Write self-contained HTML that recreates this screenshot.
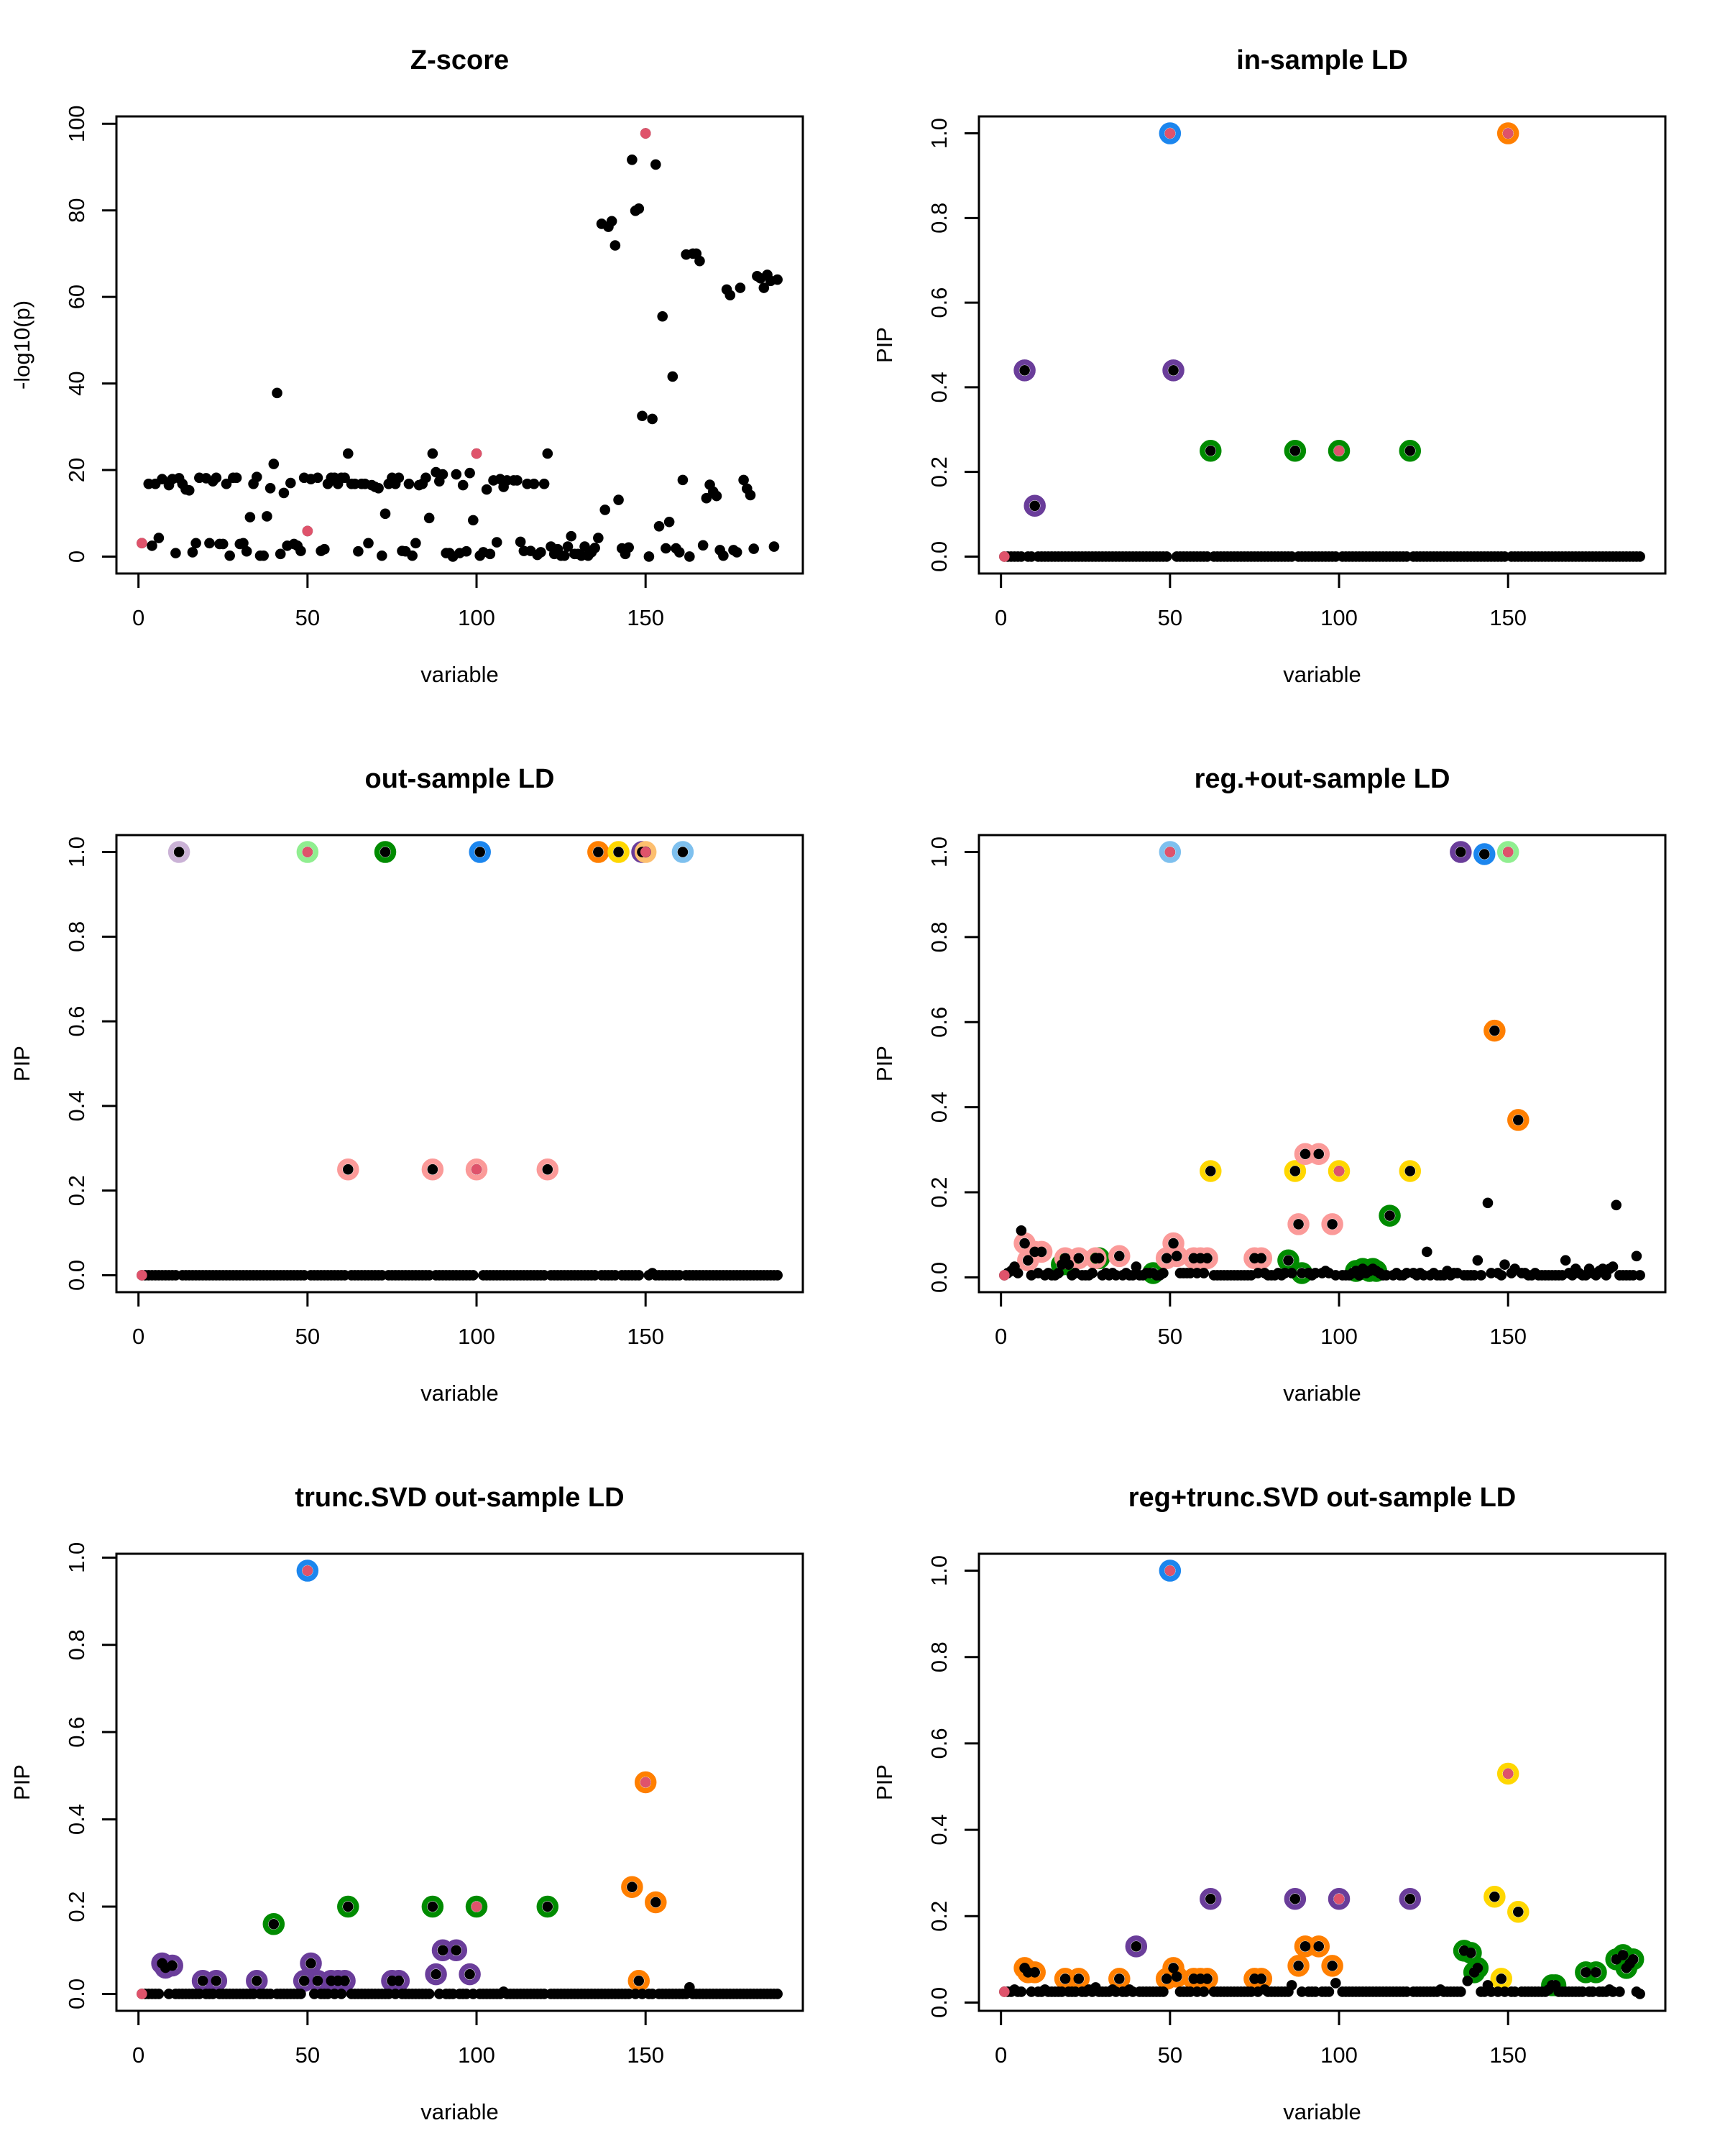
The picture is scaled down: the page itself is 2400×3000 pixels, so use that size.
<!DOCTYPE html>
<html><head><meta charset="utf-8"><style>
html,body{margin:0;padding:0;background:#fff;}
svg{display:block;font-family:"Liberation Sans",Arial,sans-serif;}
</style></head><body>
<svg id="fig" width="2400" height="3000" viewBox="0 0 2400 3000" xmlns="http://www.w3.org/2000/svg"></svg>
<script>
// ---------- data ----------
const nVar = 189;
const xTicks = [0, 50, 100, 150];
const zTicks = [0, 20, 40, 60, 80, 100];
const pipTicks = [0, 0.2, 0.4, 0.6, 0.8, 1.0];
const pipTickLabels = ["0.0","0.2","0.4","0.6","0.8","1.0"];
const trueVars = [1, 50, 100, 150];

// Panel 1: Z-score
const zVar = [1,3,4,5,6,7,9,10,11,12,13,14,15,16,17,18,20,21,22,23,24,25,26,27,28,29,30,31,32,33,34,35,36,37,38,39,40,41,42,43,44,45,46,47,48,49,50,51,53,54,55,56,57,58,59,60,61,62,63,64,65,66,67,68,69,70,71,72,73,74,75,76,77,78,79,80,81,82,83,84,85,86,87,88,89,90,91,92,93,94,95,96,97,98,99,100,101,102,103,104,105,106,107,108,109,111,112,113,114,115,116,117,118,119,120,121,122,123,124,125,126,127,128,129,130,131,132,133,134,135,136,137,138,139,140,141,142,143,144,145,146,147,148,149,150,151,152,153,154,155,156,157,158,159,160,161,162,163,164,165,166,167,168,169,170,171,172,173,174,175,176,177,178,179,180,181,182,183,184,185,186,187,188,189];
const zVal = [3.1,16.8,2.5,16.8,4.3,17.9,16.5,17.9,0.8,18.1,16.8,15.5,15.3,1.0,3.1,18.2,18.1,3.1,17.4,18.2,2.9,2.9,16.8,0.2,18.2,18.2,2.9,3.1,1.2,9.1,16.8,18.4,0.2,0.2,9.3,15.8,21.4,37.8,0.6,14.7,2.5,17.0,2.9,2.5,1.3,18.2,5.9,17.9,18.2,1.3,1.7,16.8,18.2,18.2,16.8,18.2,18.2,23.8,16.8,16.8,1.2,16.8,16.8,3.1,16.5,16.1,15.8,0.2,9.9,16.8,18.2,16.8,18.2,1.3,1.2,16.8,0.2,3.1,16.5,16.8,18.2,8.9,23.8,19.5,17.4,19.0,0.8,0.8,0.0,19.0,0.8,16.5,1.2,19.3,8.4,23.8,0.2,1.0,15.5,0.6,17.6,3.3,17.9,16.1,17.6,17.6,17.6,3.4,1.3,16.8,1.3,16.8,0.4,1.0,16.8,23.8,2.3,0.6,1.7,0.2,0.2,2.3,4.7,0.6,0.6,0.2,2.3,0.2,1.0,2.0,4.3,76.9,10.8,76.2,77.5,71.9,13.1,1.9,0.6,2.1,91.7,79.9,80.4,32.5,97.8,0.0,31.8,90.6,7.0,55.5,1.9,8.0,41.6,1.9,1.0,17.7,69.8,0.0,70.0,70.0,68.3,2.6,13.5,16.6,15.0,14.0,1.5,0.2,61.7,60.4,1.5,1.0,62.1,17.7,15.7,14.2,1.8,64.8,64.3,62.1,65.1,63.7,2.3,64.0];

// Panel 2: in-sample LD PIPs
const pip2 = [
0,0,0,0,0,0,.44,0,0,.12, 0,0,0,0,0,0,0,0,0,0, 0,0,0,0,0,0,0,0,0,0, 0,0,0,0,0,0,0,0,0,0,
0,0,0,0,0,0,0,0,0,1, .44,0,0,0,0,0,0,0,0,0, 0,.25,0,0,0,0,0,0,0,0, 0,0,0,0,0,0,0,0,0,0,
0,0,0,0,0,0,.25,0,0,0, 0,0,0,0,0,0,0,0,0,.25, 0,0,0,0,0,0,0,0,0,0, 0,0,0,0,0,0,0,0,0,0,
.25,0,0,0,0,0,0,0,0,0, 0,0,0,0,0,0,0,0,0,0, 0,0,0,0,0,0,0,0,0,1, 0,0,0,0,0,0,0,0,0,0,
0,0,0,0,0,0,0,0,0,0, 0,0,0,0,0,0,0,0,0,0, 0,0,0,0,0,0,0,0,0,0, 0,0,0,0,0,0,0,0,0];
const cs2Members = [[50],[150],[7,10,51],[62,87,100,121]];
const cs2Colors = ["#1C86EE","#FF7F00","#6A3D9A","#008B00"];

// Panel 3: out-sample LD
const pip3 = [
0,0,0,0,0,0,0,0,0,0, 0,1,0,0,0,0,0,0,0,0, 0,0,0,0,0,0,0,0,0,0, 0,0,0,0,0,0,0,0,0,0,
0,0,0,0,0,0,0,0,0,1, 0,0,0,0,0,0,0,0,0,0, 0,.25,0,0,0,0,0,0,0,0, 0,0,1,0,0,0,0,0,0,0,
0,0,0,0,0,0,.25,0,0,0, 0,0,0,0,0,0,0,0,0,.25, 1,0,0,0,0,0,0,0,0,0, 0,0,0,0,0,0,0,0,0,0,
.25,0,0,0,0,0,0,0,0,0, 0,0,0,0,0,1,0,0,0,0, 0,1,0,0,0,0,0,0,1,1, 0,.005,0,0,0,0,0,0,0,0,
1,0,0,0,0,0,0,0,0,0, 0,0,0,0,0,0,0,0,0,0, 0,0,0,0,0,0,0,0,0,0, 0,0,0,0,0,0,0,0,0];
const cs3Members = [[12],[50],[73],[101],[136],[142],[149],[150],[161],[62,87,100,121]];
const cs3Colors = ["#CAB2D6","#90EE90","#008B00","#1C86EE","#FF7F00","#FFD700","#6A3D9A","#FDBF6F","#7EC0EE","#FB9A99"];

// Panel 4: reg.+out-sample LD
const pip4 = [
.005,.01,.015,.025,.01,.11,.08,.04,.005,.06, .01,.06,.005,.01,.005,.005,.01,.03,.045,.03,
.005,.01,.045,.005,.005,.005,.01,.045,.045,.005, .01,.005,.01,.005,.05,.005,.01,.005,.005,.025,
.005,.005,.01,.01,.01,.005,.005,.01,.045,1, .08,.05,.01,.01,.01,.01,.045,.01,.045,.01,
.045,.25,.005,.005,.005,.005,.005,.005,.005,.005, .005,.005,.005,.005,.045,.01,.045,.01,.005,.005,
.005,.01,.005,.01,.04,.01,.25,.125,.01,.29, .01,.005,.01,.29,.01,.015,.01,.125,.005,.25,
.005,.005,.005,.01,.015,.005,.02,.01,.015,.02, .015,.01,.005,.005,.145,.005,.01,.005,.005,.01,
.25,.01,.005,.01,.005,.06,.005,.01,.005,.005, .005,.015,.005,.01,.01,1,.005,.005,.005,.005,
.04,.005,.995,.175,.01,.58,.01,.005,.03,1, .01,.02,.37,.01,.01,.005,.005,.01,.005,.005,
.005,.005,.005,.005,.005,.005,.04,.01,.005,.02, .01,.005,.005,.02,.01,.005,.015,.02,.005,.02,
.025,.17,.005,.005,.005,.005,.005,.05,.005];
const cs4Members = [[50],[136],[143],[150],[146,153],[62,87,100,121],
  [18,20,29,45,85,89,105,107,109,110,111,115],
  [7,8,10,12,19,23,28,35,49,51,52,57,59,61,75,77,88,90,94,98]];
const cs4Colors = ["#7EC0EE","#6A3D9A","#1C86EE","#90EE90","#FF7F00","#FFD700","#008B00","#FB9A99"];

// Panel 5: trunc.SVD out-sample LD
const pip5 = [
0,0,0,0,0,0,.07,.06,0,.065, 0,0,0,0,0,0,0,0,.03,0, 0,0,.03,0,0,0,0,0,0,0, 0,0,0,0,.03,0,0,0,0,.16,
0,0,0,0,0,0,0,0,.03,.97, .07,0,.03,0,0,0,.03,0,.03,0, .03,.2,0,0,0,0,0,0,0,0, 0,0,0,0,.03,0,.03,0,0,0,
0,0,0,0,0,0,.2,.045,0,.1, 0,0,0,.1,0,0,0,.045,0,.2, 0,0,0,0,0,0,0,.005,0,0, 0,0,0,0,0,0,0,0,0,0,
.2,0,0,0,0,0,0,0,0,0, 0,0,0,0,0,0,0,0,0,0, 0,0,0,0,0,.245,0,.03,0,.485, 0,0,.21,0,0,0,0,0,0,0,
0,0,.015,0,0,0,0,0,0,0, 0,0,0,0,0,0,0,0,0,0, 0,0,0,0,0,0,0,0,0,0, 0,0,0,0,0,0,0,0,0];
const cs5Members = [[50],[146,148,150,153],[40,62,87,100,121],
  [7,8,10,19,23,35,49,51,53,57,59,61,75,77,88,90,94,98]];
const cs5Colors = ["#1C86EE","#FF7F00","#008B00","#6A3D9A"];

// Panel 6: reg+trunc.SVD out-sample LD
const pip6 = [
.025,.025,.025,.03,.025,.025,.08,.07,.025,.07, .025,.025,.03,.025,.025,.025,.025,.025,.055,.025,
.025,.025,.055,.025,.025,.03,.025,.035,.025,.025, .025,.025,.03,.025,.055,.025,.025,.03,.025,.13,
.025,.025,.025,.025,.025,.025,.025,.025,.055,1, .08,.06,.025,.025,.025,.025,.055,.025,.055,.025,
.055,.24,.025,.025,.025,.025,.025,.025,.025,.025, .025,.025,.025,.025,.055,.025,.055,.03,.025,.025,
.025,.025,.025,.025,.025,.04,.24,.085,.025,.13, .025,.025,.025,.13,.025,.025,.025,.085,.045,.24,
.025,.025,.025,.025,.025,.025,.025,.025,.025,.025, .025,.025,.025,.025,.025,.025,.025,.025,.025,.025,
.24,.025,.025,.025,.025,.025,.025,.025,.025,.03, .025,.025,.025,.025,.025,.025,.12,.05,.115,.07,
.08,.025,.025,.04,.025,.245,.025,.055,.025,.53, .025,.025,.21,.025,.025,.025,.025,.025,.025,.025,
.025,.03,.04,.04,.025,.025,.025,.025,.025,.025, .025,.025,.07,.025,.025,.07,.025,.025,.025,.03,
.025,.1,.025,.11,.08,.09,.1,.025,.02];
const cs6Members = [[50],[146,148,150,153],[40,62,87,100,121],
  [137,139,140,141,163,164,173,176,182,184,185,187],
  [7,8,10,19,23,35,49,51,52,57,59,61,75,77,88,90,94,98]];
const cs6Colors = ["#1C86EE","#FFD700","#6A3D9A","#008B00","#FF7F00"];

// ---------- drawing ----------
const NS = "http://www.w3.org/2000/svg";
const svg = document.getElementById("fig");
const RED = "#DF536B";
function mk(tag, attrs, parent) {
  const e = document.createElementNS(NS, tag);
  for (const k in attrs) e.setAttribute(k, attrs[k]);
  (parent || svg).appendChild(e);
  return e;
}
const PL = 162, PR = 1117, PT = 162, PB = 798;

function panel(col, row, title, ylab, xs, ys, yTicks, yLabels, csMembers, csColors) {
  const ox = col * 1200, oy = row * 1000;
  const g = mk("g", {});
  
  
  const xmin = 1, xmax = nVar;
  const xr = xmax - xmin;
  const x0 = xmin - 0.04 * xr, x1 = xmax + 0.04 * xr;
  let ymin = Math.min(...ys), ymax = Math.max(...ys);
  const yr = ymax - ymin;
  const y0 = ymin - 0.04 * yr, y1 = ymax + 0.04 * yr;
  const sx = v => ox + PL + (v - x0) / (x1 - x0) * (PR - PL);
  const sy = v => oy + PB - (v - y0) / (y1 - y0) * (PB - PT);

  const t = mk("text", {x: ox + (PL + PR) / 2, y: oy + 96, "text-anchor": "middle", "font-size": 38, "font-weight": "bold"}, g);
  t.textContent = title;
  
  

  const xa = mk("g", {}, g);
  
  
  mk("line", {x1: sx(xTicks[0]), x2: sx(xTicks[xTicks.length - 1]), y1: oy + PB, y2: oy + PB, stroke: "#000", "stroke-width": 3}, xa);
  xTicks.forEach(v => {
    mk("line", {x1: sx(v), x2: sx(v), y1: oy + PB, y2: oy + PB + 20, stroke: "#000", "stroke-width": 3}, xa);
    const tl = mk("text", {x: sx(v), y: oy + PB + 72, "text-anchor": "middle", "font-size": 31}, xa);
    tl.textContent = v;
    
    
  });
  const xl = mk("text", {x: ox + (PL + PR) / 2, y: oy + 949, "text-anchor": "middle", "font-size": 31}, g);
  xl.textContent = "variable";
  
  

  const ya = mk("g", {}, g);
  
  
  mk("line", {x1: ox + PL, x2: ox + PL, y1: sy(yTicks[0]), y2: sy(yTicks[yTicks.length - 1]), stroke: "#000", "stroke-width": 3}, ya);
  yTicks.forEach((v, i) => {
    mk("line", {x1: ox + PL, x2: ox + PL - 20, y1: sy(v), y2: sy(v), stroke: "#000", "stroke-width": 3}, ya);
    const tx = ox + 117, ty = sy(v);
    const tl = mk("text", {x: tx, y: ty, "text-anchor": "middle", "font-size": 31, transform: `rotate(-90 ${tx} ${ty})`}, ya);
    tl.textContent = yLabels[i];
    
    
  });
  const lx = ox + 41, ly = oy + (PT + PB) / 2;
  const yl = mk("text", {x: lx, y: ly, "text-anchor": "middle", "font-size": 31, transform: `rotate(-90 ${lx} ${ly})`}, g);
  yl.textContent = ylab;
  
  

  const box = mk("rect", {x: ox + PL, y: oy + PT, width: PR - PL, height: PB - PT, fill: "none", stroke: "#000", "stroke-width": 3}, g);
  
  

  const pts = mk("g", {}, g);
  
  
  if (csMembers) {
    csMembers.forEach((mem, k) => {
      mem.forEach(v => {
        const c = mk("circle", {cx: sx(v), cy: sy(ys[v - 1]), r: 11.5, fill: "none", stroke: csColors[k], "stroke-width": 7.5}, pts);
        
        
      });
    });
  }
  xs.forEach((v, i) => {
    const c = mk("circle", {cx: sx(v), cy: sy(ys[i]), r: 7.3, fill: "#000"}, pts);
    
    
  });
  trueVars.forEach(v => {
    const i = xs.indexOf(v);
    if (i < 0) return;
    const c = mk("circle", {cx: sx(v), cy: sy(ys[i]), r: 7.3, fill: RED}, pts);
    
    
  });
}

const allVars = [];
for (let i = 1; i <= nVar; i++) allVars.push(i);

panel(0, 0, "Z-score", "-log10(p)", zVar, zVal, zTicks, zTicks.map(String), null, null);
panel(1, 0, "in-sample LD", "PIP", allVars, pip2, pipTicks, pipTickLabels, cs2Members, cs2Colors);
panel(0, 1, "out-sample LD", "PIP", allVars, pip3, pipTicks, pipTickLabels, cs3Members, cs3Colors);
panel(1, 1, "reg.+out-sample LD", "PIP", allVars, pip4, pipTicks, pipTickLabels, cs4Members, cs4Colors);
panel(0, 2, "trunc.SVD out-sample LD", "PIP", allVars, pip5, pipTicks, pipTickLabels, cs5Members, cs5Colors);
panel(1, 2, "reg+trunc.SVD out-sample LD", "PIP", allVars, pip6, pipTicks, pipTickLabels, cs6Members, cs6Colors);
</script>
</body></html>
